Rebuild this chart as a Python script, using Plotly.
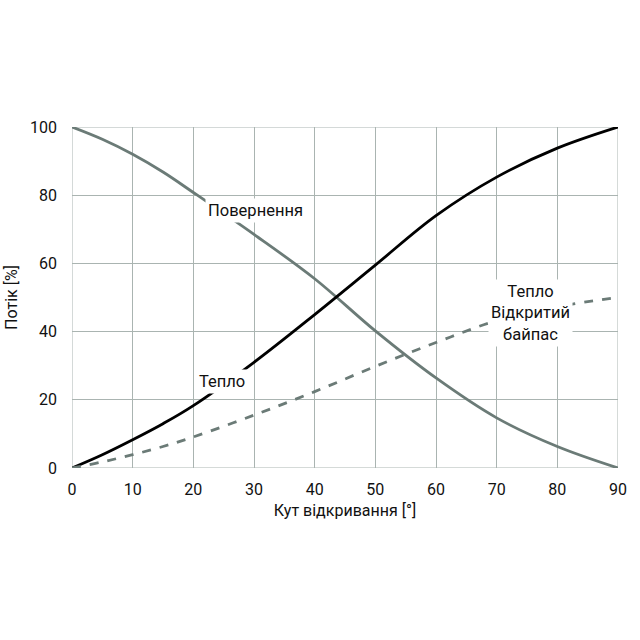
import plotly.graph_objects as go

angle = [0, 5, 10, 15, 20, 30, 40, 50, 60, 70, 80, 90]
return_flow = [100, 96.4, 92.0, 86.8, 80.8, 68.5, 55.5, 40.2, 26.4, 14.7, 6.3, 0]
heat_flow = [0, 3.9, 8.3, 13.0, 18.3, 31, 45, 59.5, 74, 85.3, 93.8, 100]
bypass_flow = [0, 1.8, 3.9, 6.3, 9.1, 15.5, 22.4, 29.8, 36.8, 43.2, 47.3, 50]

x_ticks = [0, 10, 20, 30, 40, 50, 60, 70, 80, 90]
y_ticks = [0, 20, 40, 60, 80, 100]

grey = "#6b7b77"
grid = "#aab4b1"
font = "Roboto"

fig = go.Figure()
fig.add_trace(go.Scatter(x=angle, y=return_flow, mode="lines",
                         line=dict(color=grey, width=2.8, shape="spline"), name="Повернення"))
fig.add_trace(go.Scatter(x=angle, y=heat_flow, mode="lines",
                         line=dict(color="#000000", width=2.8, shape="spline"), name="Тепло"))
fig.add_trace(go.Scatter(x=angle, y=bypass_flow, mode="lines",
                         line=dict(color=grey, width=2.8, shape="spline", dash="dash"),
                         name="Тепло Відкритий байпас"))

ann_font = dict(family=font, size=16.5, color="#111111")
fig.add_annotation(x=30.2, y=75.5, text="Повернення", showarrow=False, font=ann_font,
                   bgcolor="white", borderpad=2)
fig.add_annotation(x=24.8, y=25.3, text="Тепло", showarrow=False, font=ann_font,
                   bgcolor="white", borderpad=2)
fig.add_annotation(x=75.5, y=45.5, text="Тепло<br>Відкритий<br>байпас", showarrow=False,
                   font=ann_font, bgcolor="white", borderpad=2, align="center")

fig.update_layout(
    width=640, height=640,
    margin=dict(l=72, r=22, t=127, b=172),
    paper_bgcolor="white", plot_bgcolor="white",
    showlegend=False,
    font=dict(family=font, size=16, color="#111111"),
    xaxis=dict(range=[0, 90], tickvals=x_ticks, ticktext=[str(v) for v in x_ticks],
               showgrid=True, gridcolor=grid, gridwidth=1, zeroline=False,
               showline=False, ticks="", ticklabelstandoff=10,
               title=dict(text="Кут відкривання [°]", font=dict(size=16), standoff=6)),
    yaxis=dict(range=[0, 100], tickvals=y_ticks,
               showgrid=True, gridcolor=grid, gridwidth=1, zeroline=False,
               showline=False, ticks="", ticklabelstandoff=14,
               title=dict(text="Потік [%]", font=dict(size=16), standoff=8)),
)
for (x0, x1, y0, y1) in [(0, 90, 100, 100), (0, 90, 0, 0), (0, 0, 0, 100), (90, 90, 0, 100)]:
    fig.add_shape(type="line", xref="x", yref="y", x0=x0, x1=x1, y0=y0, y1=y1,
                  line=dict(color=grid, width=1), layer="below")

fig.write_html("out.html")
